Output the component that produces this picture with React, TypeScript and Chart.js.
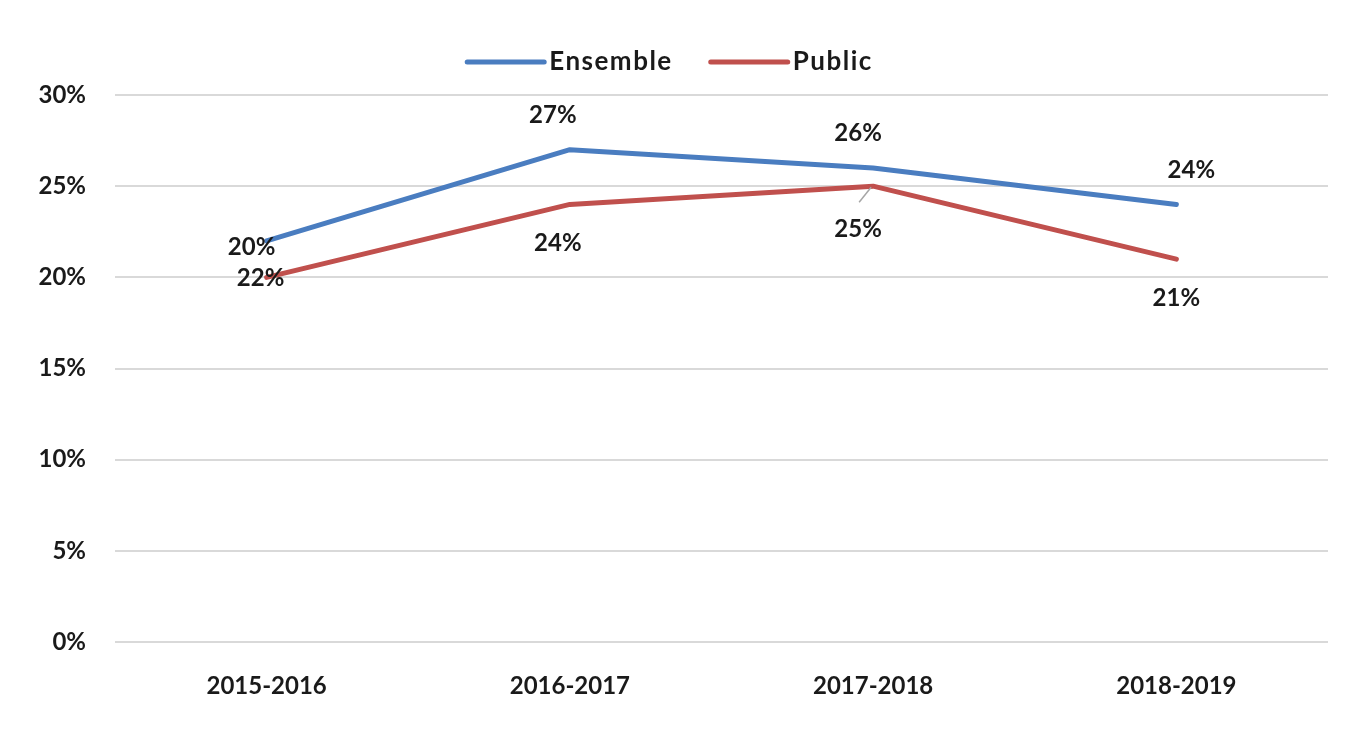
import React, { useEffect, useRef } from "react";
import { Chart, registerables } from "chart.js";

Chart.register(...registerables);

const categories = ["2015-2016", "2016-2017", "2017-2018", "2018-2019"];
const ensembleValues = [22, 27, 26, 24];
const publicValues = [20, 24, 25, 21];
const ensembleLabels = ["20%", "27%", "26%", "24%"];
const publicLabels = ["22%", "24%", "25%", "21%"];
const yMin = 0;
const yMax = 30;
const yStep = 5;

const BLUE = "#4A7DC0";
const RED = "#C0504D";
const TEXT = "#1a1a1a";
const FONT = "Lato";

// label offsets relative to points (styling)
const labelOffsets = [
  [[-15, 6], [-17, -34], [-15, -35], [15, -34]],
  [[-6, 1], [-12, 39], [-15, 43], [0, 39]],
];
const leaderLines = [
  [null, null, null, null],
  [null, null, [[-2, 1], [-14, 16]], null],
];

const labelPlugin = {
  id: "customLabels",
  afterDatasetsDraw(chart: any) {
    const ctx = chart.ctx;
    const texts = [ensembleLabels, publicLabels];
    ctx.save();
    chart.data.datasets.forEach((ds: any, di: number) => {
      const meta = chart.getDatasetMeta(di);
      meta.data.forEach((pt: any, i: number) => {
        const ll = leaderLines[di][i];
        if (ll) {
          ctx.strokeStyle = "#a6a6a6";
          ctx.lineWidth = 1.5;
          ctx.beginPath();
          ctx.moveTo(pt.x + ll[0][0], pt.y + ll[0][1]);
          ctx.lineTo(pt.x + ll[1][0], pt.y + ll[1][1]);
          ctx.stroke();
        }
        const [dx, dy] = labelOffsets[di][i];
        ctx.fillStyle = TEXT;
        ctx.font = `bold 24px ${FONT}`;
        ctx.textAlign = "center";
        ctx.textBaseline = "middle";
        ctx.fillText(texts[di][i], pt.x + dx, pt.y + dy);
      });
    });
    ctx.restore();
  },
};

const legendPlugin = {
  id: "customLegend",
  afterDraw(chart: any) {
    const ctx = chart.ctx;
    ctx.save();
    ctx.font = `bold 26px ${FONT}`;
    (ctx as any).letterSpacing = "1.5px";
    const lineLen = 77;
    const gapText = 5;
    const gapItem = 38;
    const items = chart.data.datasets.map((d: any) => ({
      label: d.label,
      color: d.borderColor,
      w: ctx.measureText(d.label).width,
    }));
    const total =
      items.reduce((s: number, it: any) => s + lineLen + gapText + it.w, 0) +
      gapItem * (items.length - 1);
    let x = 670 - total / 2;
    const y = 62;
    items.forEach((it: any) => {
      ctx.strokeStyle = it.color;
      ctx.lineWidth = 5;
      ctx.lineCap = "round";
      ctx.beginPath();
      ctx.moveTo(x, y);
      ctx.lineTo(x + lineLen, y);
      ctx.stroke();
      x += lineLen + gapText;
      ctx.fillStyle = TEXT;
      ctx.textAlign = "left";
      ctx.textBaseline = "middle";
      ctx.fillText(it.label, x, y);
      x += it.w + gapItem;
    });
    ctx.restore();
  },
};

export default function App() {
  const ref = useRef<HTMLCanvasElement>(null);
  useEffect(() => {
    if (!ref.current) return;
    const chart = new Chart(ref.current, {
      type: "line",
      data: {
        labels: categories,
        datasets: [
          {
            label: "Ensemble",
            data: ensembleValues,
            borderColor: BLUE,
            backgroundColor: BLUE,
            borderWidth: 5,
            pointRadius: 0,
            borderCapStyle: "round",
            borderJoinStyle: "round",
            tension: 0,
          },
          {
            label: "Public",
            data: publicValues,
            borderColor: RED,
            backgroundColor: RED,
            borderWidth: 5,
            pointRadius: 0,
            borderCapStyle: "round",
            borderJoinStyle: "round",
            tension: 0,
          },
        ],
      },
      options: {
        animation: false,
        responsive: true,
        maintainAspectRatio: false,
        layout: { padding: { top: 95, right: 30, bottom: 0, left: 0 } },
        plugins: {
          legend: { display: false },
          tooltip: { enabled: false },
        },
        scales: {
          x: {
            offset: true,
            grid: { display: false, drawTicks: false },
            border: { display: false },
            ticks: {
              color: TEXT,
              font: { family: FONT, size: 24, weight: "bold" },
              padding: 30,
              maxRotation: 0,
            },
            afterFit(scale: any) {
              scale.height = 96;
            },
          },
          y: {
            min: yMin,
            max: yMax,
            grid: { color: "#d9d9d9", lineWidth: 2, drawTicks: false },
            border: { display: false },
            ticks: {
              stepSize: yStep,
              color: TEXT,
              font: { family: FONT, size: 24, weight: "bold" },
              padding: 29,
              callback: (v: any) => `${v}%`,
            },
            afterFit(scale: any) {
              scale.width = 115;
            },
          },
        },
      },
      plugins: [labelPlugin, legendPlugin],
    });
    return () => chart.destroy();
  }, []);
  return (
    <div style={{ position: "absolute", left: 0, top: 0, width: 1358, height: 738, background: "#fff" }}>
      <canvas ref={ref} />
    </div>
  );
}
